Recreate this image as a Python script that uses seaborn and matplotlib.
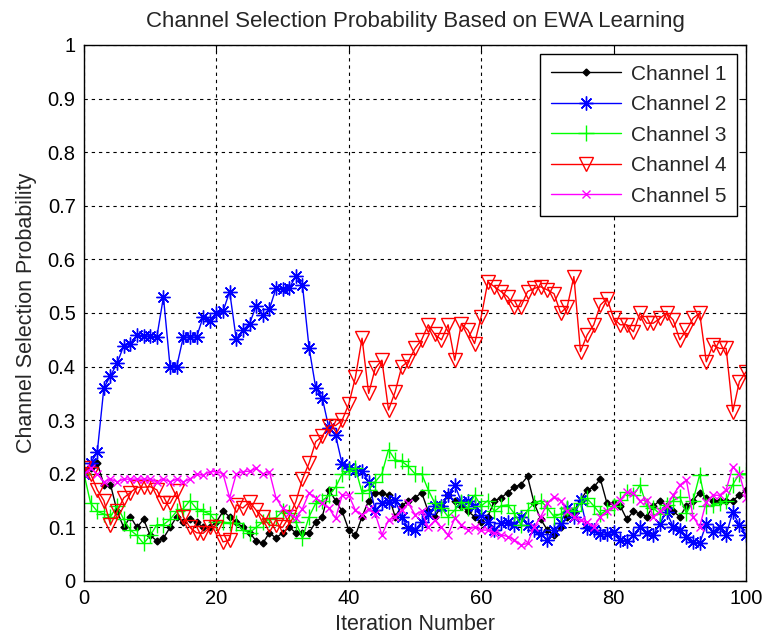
import matplotlib
matplotlib.use("Agg")
import matplotlib.pyplot as plt
import pandas as pd
import seaborn as sns

iterations = list(range(101))

channel_1 = [0.20, 0.21, 0.22, 0.18, 0.18, 0.13, 0.10, 0.12, 0.10, 0.115,
             0.085, 0.075, 0.08, 0.10, 0.12, 0.11, 0.115, 0.11, 0.10, 0.10,
             0.11, 0.13, 0.12, 0.11, 0.10, 0.09, 0.075, 0.07, 0.09, 0.08,
             0.09, 0.10, 0.09, 0.09, 0.09, 0.11, 0.12, 0.17, 0.15, 0.13,
             0.095, 0.085, 0.12, 0.15, 0.165, 0.165, 0.16, 0.12, 0.14, 0.15,
             0.155, 0.165, 0.13, 0.12, 0.14, 0.16, 0.15, 0.14, 0.13, 0.12,
             0.11, 0.12, 0.15, 0.155, 0.165, 0.175, 0.18, 0.195, 0.145, 0.115,
             0.095, 0.085, 0.10, 0.12, 0.13, 0.15, 0.17, 0.175, 0.19, 0.145,
             0.145, 0.14, 0.115, 0.13, 0.125, 0.12, 0.14, 0.15, 0.14, 0.13,
             0.12, 0.14, 0.15, 0.165, 0.155, 0.15, 0.15, 0.15, 0.15, 0.16,
             0.17]

channel_2 = [0.20, 0.22, 0.24, 0.36, 0.383, 0.406, 0.439, 0.443, 0.459, 0.457,
             0.457, 0.455, 0.53, 0.40, 0.40, 0.455, 0.455, 0.455, 0.493, 0.486,
             0.50, 0.503, 0.54, 0.451, 0.468, 0.48, 0.513, 0.496, 0.507, 0.546,
             0.545, 0.546, 0.569, 0.552, 0.435, 0.361, 0.341, 0.285, 0.272, 0.218,
             0.21, 0.207, 0.205, 0.185, 0.132, 0.145, 0.148, 0.151, 0.12, 0.098,
             0.095, 0.11, 0.125, 0.139, 0.14, 0.16, 0.179, 0.148, 0.15, 0.139,
             0.123, 0.111, 0.095, 0.108, 0.11, 0.104, 0.12, 0.105, 0.095, 0.087,
             0.077, 0.095, 0.108, 0.136, 0.12, 0.151, 0.098, 0.095, 0.087, 0.087,
             0.092, 0.077, 0.074, 0.085, 0.101, 0.09, 0.086, 0.107, 0.129, 0.101,
             0.095, 0.082, 0.073, 0.07, 0.107, 0.092, 0.101, 0.086, 0.129, 0.104,
             0.086]

channel_3 = [0.20, 0.145, 0.13, 0.125, 0.12, 0.14, 0.115, 0.095, 0.085, 0.07,
             0.085, 0.105, 0.105, 0.115, 0.13, 0.135, 0.15, 0.135, 0.13, 0.125,
             0.11, 0.11, 0.108, 0.108, 0.095, 0.09, 0.10, 0.11, 0.115, 0.118,
             0.13, 0.126, 0.11, 0.08, 0.12, 0.145, 0.15, 0.16, 0.175, 0.20,
             0.205, 0.21, 0.165, 0.17, 0.185, 0.20, 0.245, 0.226, 0.223, 0.214,
             0.20, 0.20, 0.17, 0.145, 0.136, 0.12, 0.132, 0.148, 0.136, 0.16,
             0.14, 0.15, 0.13, 0.14, 0.142, 0.126, 0.105, 0.132, 0.145, 0.15,
             0.136, 0.12, 0.125, 0.136, 0.13, 0.145, 0.154, 0.14, 0.125, 0.132,
             0.139, 0.151, 0.166, 0.16, 0.179, 0.139, 0.136, 0.125, 0.142, 0.15,
             0.157, 0.126, 0.15, 0.198, 0.139, 0.142, 0.145, 0.15, 0.18, 0.20,
             0.20]

channel_4 = [0.21, 0.20, 0.17, 0.15, 0.105, 0.13, 0.155, 0.165, 0.175, 0.175,
             0.176, 0.17, 0.145, 0.145, 0.167, 0.12, 0.10, 0.09, 0.089, 0.10,
             0.10, 0.073, 0.076, 0.142, 0.136, 0.148, 0.132, 0.12, 0.104, 0.104,
             0.10, 0.12, 0.148, 0.19, 0.22, 0.26, 0.27, 0.29, 0.29, 0.30,
             0.33, 0.38, 0.453, 0.35, 0.397, 0.412, 0.319, 0.353, 0.40, 0.41,
             0.434, 0.45, 0.478, 0.46, 0.45, 0.478, 0.412, 0.48, 0.468, 0.443,
             0.493, 0.558, 0.549, 0.54, 0.53, 0.512, 0.512, 0.54, 0.546, 0.549,
             0.543, 0.536, 0.50, 0.512, 0.568, 0.428, 0.459, 0.478, 0.515, 0.527,
             0.49, 0.478, 0.478, 0.465, 0.50, 0.481, 0.481, 0.49, 0.50, 0.487,
             0.45, 0.468, 0.49, 0.50, 0.409, 0.44, 0.434, 0.434, 0.316, 0.372,
             0.39]

channel_5 = [0.20, 0.21, 0.20, 0.185, 0.19, 0.185, 0.19, 0.19, 0.19, 0.19,
             0.19, 0.185, 0.19, 0.185, 0.19, 0.185, 0.19, 0.20, 0.197, 0.204,
             0.204, 0.20, 0.155, 0.20, 0.204, 0.205, 0.21, 0.20, 0.204, 0.155,
             0.136, 0.126, 0.117, 0.135, 0.164, 0.155, 0.145, 0.136, 0.117, 0.16,
             0.16, 0.132, 0.123, 0.135, 0.125, 0.086, 0.114, 0.12, 0.132, 0.145,
             0.124, 0.13, 0.10, 0.113, 0.10, 0.086, 0.117, 0.105, 0.095, 0.101,
             0.095, 0.095, 0.09, 0.086, 0.083, 0.077, 0.067, 0.07, 0.101, 0.12,
             0.145, 0.157, 0.15, 0.13, 0.12, 0.113, 0.11, 0.101, 0.12, 0.13,
             0.139, 0.151, 0.166, 0.164, 0.15, 0.151, 0.12, 0.13, 0.14, 0.16,
             0.179, 0.188, 0.12, 0.101, 0.148, 0.16, 0.16, 0.17, 0.213, 0.20,
             0.155]

channel_names = ["Channel 1", "Channel 2", "Channel 3", "Channel 4", "Channel 5"]
x_ticks = [0, 20, 40, 60, 80, 100]
y_ticks = [0, 0.1, 0.2, 0.3, 0.4, 0.5, 0.6, 0.7, 0.8, 0.9, 1]
y_tick_labels = ["0", "0.1", "0.2", "0.3", "0.4", "0.5", "0.6", "0.7", "0.8", "0.9", "1"]

frames = []
for name, vals in zip(channel_names, [channel_1, channel_2, channel_3, channel_4, channel_5]):
    frames.append(pd.DataFrame({"iteration": iterations, "prob": vals, "channel": name}))
data = pd.concat(frames, ignore_index=True)

sns.set_theme(style="white")
plt.rcParams["font.family"] = ["Liberation Sans", "DejaVu Sans"]

# MATLAB-like marker set: dot-diamond, asterisk, plus, open down-triangle, cross
line_styles = {
    "Channel 1": dict(color="#000000", marker="D", markersize=3.5, markerfacecolor="#000000"),
    "Channel 2": dict(color="#0000ff", marker=(8, 2, 0), markersize=10, markerfacecolor="#0000ff"),
    "Channel 3": dict(color="#00ff00", marker="+", markersize=11, markerfacecolor="#00ff00"),
    "Channel 4": dict(color="#ff0000", marker="v", markersize=9.5, markerfacecolor="none"),
    "Channel 5": dict(color="#ff00ff", marker="x", markersize=6, markerfacecolor="#ff00ff"),
}

fig = plt.figure(figsize=(7.66, 6.42), dpi=100)
ax = fig.add_axes([84 / 766, 1 - 581 / 642, (746 - 84) / 766, (581 - 45) / 642])

for name in channel_names:
    st = line_styles[name]
    sub = data[data["channel"] == name]
    sns.lineplot(data=sub, x="iteration", y="prob", ax=ax, color=st["color"],
                 marker=st["marker"], markersize=st["markersize"],
                 markerfacecolor=st["markerfacecolor"], markeredgecolor=st["color"],
                 markeredgewidth=1.0, linewidth=1.0, label=name, legend=False)

ax.set_xlim(0, 100)
ax.set_ylim(0, 1)
ax.set_xticks(x_ticks)
ax.set_yticks(y_ticks)
ax.set_yticklabels(y_tick_labels)
ax.tick_params(direction="in", length=5, width=0.8, top=True, right=True,
               labelsize=14.5, colors="#000000", pad=6)
ax.grid(True, color="#000000", linestyle=(0, (3, 3.5)), linewidth=0.8)
for sp in ax.spines.values():
    sp.set_color("#000000")
    sp.set_linewidth(1.0)

ax.set_title("Channel Selection Probability Based on EWA Learning", fontsize=16, pad=13)
ax.set_xlabel("Iteration Number", fontsize=15.5, labelpad=4)
ax.set_ylabel("Channel Selection Probability", fontsize=15.5, labelpad=8)

leg = ax.legend(loc="upper right", fontsize=15, frameon=True, fancybox=False,
                framealpha=1, edgecolor="#000000", borderpad=0.5, labelspacing=0.55,
                handlelength=3.4, handletextpad=0.45, borderaxespad=0.45)
leg.get_frame().set_linewidth(1.0)

fig.savefig("out.png", dpi=100, facecolor="white")
